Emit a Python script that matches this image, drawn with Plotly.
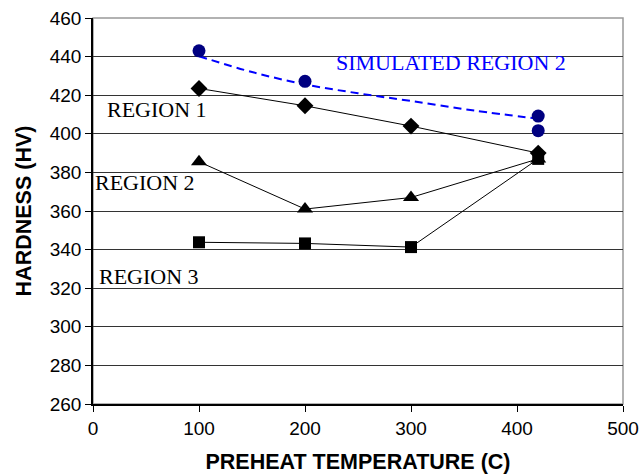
import plotly.graph_objects as go

# Preheat temperatures (C)
temps = [100, 200, 300, 420]

# Measured hardness (HV) per weld region
region1 = [423.5, 414.5, 404, 390]
region2 = [385.5, 361, 367, 387]
region3 = [343.8, 343.2, 341.3, 387]

# Simulated region 2 hardness and its trend curve
sim_temps = [100, 200, 420, 420]
sim_hv = [443, 427.2, 409.2, 401.6]
trend_temps = [100, 150, 200, 250, 300, 360, 420]
trend_hv = [440.2, 432, 425.6, 421, 417, 412, 407.8]

x_ticks = [0, 100, 200, 300, 400, 500]
y_ticks = list(range(260, 461, 20))

fig = go.Figure()

line_style = dict(color="black", width=1)

fig.add_trace(go.Scatter(x=trend_temps, y=trend_hv, mode="lines",
                         line=dict(color="#0000FF", width=2, dash="8px,5px"),
                         line_shape="spline", showlegend=False))
fig.add_trace(go.Scatter(x=temps, y=region3, mode="lines+markers", line=line_style,
                         marker=dict(symbol="square", size=12, color="black"),
                         showlegend=False))
fig.add_trace(go.Scatter(x=temps, y=region2, mode="lines+markers", line=line_style,
                         marker=dict(symbol="triangle-up", size=14, color="black"),
                         showlegend=False))
fig.add_trace(go.Scatter(x=temps, y=region1, mode="lines+markers", line=line_style,
                         marker=dict(symbol="diamond", size=13, color="black"),
                         showlegend=False))
fig.add_trace(go.Scatter(x=sim_temps, y=sim_hv, mode="markers",
                         marker=dict(symbol="circle", size=13, color="#000080"),
                         showlegend=False))

serif = "Liberation Serif, Times New Roman, serif"
label_font = dict(family=serif, size=22, color="black")
annotations = [
    dict(x=11, y=412.5, text="REGION 1"),
    dict(x=0, y=374.8, text="REGION 2"),
    dict(x=3.5, y=326, text="REGION 3"),
]
for a in annotations:
    fig.add_annotation(x=a["x"], y=a["y"], text=a["text"], showarrow=False,
                       xanchor="left", yanchor="middle", font=label_font)
fig.add_annotation(x=227, y=436.8, text="SIMULATED REGION 2", showarrow=False,
                   xanchor="left", yanchor="middle",
                   font=dict(family=serif, size=22, color="#0000FF"))

# Grey frame around the plotting area
fig.add_shape(type="rect", xref="paper", yref="paper", x0=0, y0=0, x1=1, y1=1,
              line=dict(color="#999999", width=1.5), layer="below")

sans = "Liberation Sans, Arial, sans-serif"
axis_font = dict(family=sans, size=19, color="black")
title_font = dict(family=sans, size=21.5, color="black")

fig.update_xaxes(range=[0, 500], tickvals=x_ticks, ticks="outside", ticklen=6,
                 tickcolor="black", showgrid=False, zeroline=False, automargin=False,
                 showline=True, linecolor="black", linewidth=1.5,
                 tickfont=axis_font,
                 title=dict(text="<b>PREHEAT TEMPERATURE (C)</b>", font=title_font,
                            standoff=16))
fig.update_yaxes(range=[260, 460], tickvals=y_ticks, ticks="outside", ticklen=6,
                 tickcolor="black", showgrid=True, gridcolor="#333333", gridwidth=1,
                 zeroline=False, automargin=False,
                 showline=True, linecolor="black", linewidth=1.5,
                 tickfont=axis_font,
                 title=dict(text="<b>HARDNESS (HV)</b>", font=title_font, standoff=12))

fig.update_layout(width=644, height=476, margin=dict(l=93, r=21, t=18, b=72),
                  paper_bgcolor="white", plot_bgcolor="white")

fig.write_html("out.html")
